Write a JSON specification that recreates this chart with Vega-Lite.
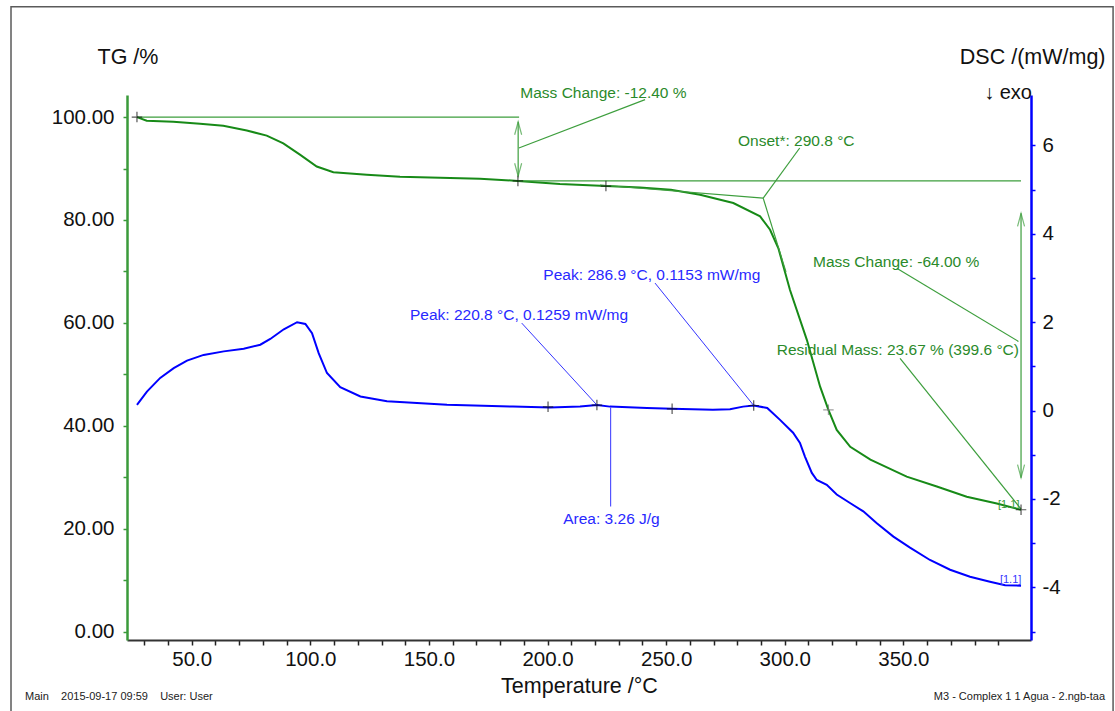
{
  "$schema": "https://vega.github.io/schema/vega-lite/v6.json",
  "width": 904,
  "height": 545,
  "autosize": {"type": "none"},
  "padding": {"left": 127, "top": 95, "right": 84, "bottom": 71},
  "background": "white",
  "config": {
    "view": {"stroke": null},
    "font": "Liberation Sans",
    "axis": {"grid": false, "labelOverlap": false, "labelBound": false, "labelFlush": false, "labelFontSize": 20.5, "labelColor": "#111", "titleFontWeight": "normal", "titleFontSize": 21.5, "titleColor": "#111", "tickWidth": 1.5, "ticks": true}
  },
  "datasets": {
    "tg": [
      {"T": 26.9, "V": 100.0}, {"T": 31.0, "V": 99.3}, {"T": 42.2, "V": 99.1}, {"T": 53.5, "V": 98.7},
      {"T": 63.3, "V": 98.3}, {"T": 73.2, "V": 97.4}, {"T": 81.6, "V": 96.4}, {"T": 88.6, "V": 94.9},
      {"T": 95.6, "V": 92.7}, {"T": 102.7, "V": 90.4}, {"T": 109.7, "V": 89.3}, {"T": 123.8, "V": 88.8},
      {"T": 137.8, "V": 88.4}, {"T": 154.7, "V": 88.2}, {"T": 171.5, "V": 88.0}, {"T": 187.5, "V": 87.6},
      {"T": 205.2, "V": 87.0}, {"T": 224.6, "V": 86.6}, {"T": 239.0, "V": 86.3}, {"T": 252.0, "V": 85.9},
      {"T": 264.3, "V": 84.9}, {"T": 278.3, "V": 83.3}, {"T": 289.6, "V": 80.7}, {"T": 293.8, "V": 78.1},
      {"T": 297.3, "V": 74.5}, {"T": 302.2, "V": 66.4}, {"T": 309.3, "V": 56.7}, {"T": 314.9, "V": 47.6},
      {"T": 318.4, "V": 43.1}, {"T": 321.9, "V": 39.2}, {"T": 327.6, "V": 35.9}, {"T": 336.1, "V": 33.4},
      {"T": 351.4, "V": 30.1}, {"T": 364.1, "V": 28.2}, {"T": 376.7, "V": 26.2}, {"T": 389.4, "V": 24.9},
      {"T": 399.6, "V": 23.67}
    ],
    "dsc": [
      {"T": 26.9, "V": 0.13}, {"T": 31.1, "V": 0.43}, {"T": 36.7, "V": 0.74}, {"T": 42.4, "V": 0.96},
      {"T": 48.0, "V": 1.13}, {"T": 55.0, "V": 1.26}, {"T": 63.5, "V": 1.34}, {"T": 71.9, "V": 1.40},
      {"T": 78.9, "V": 1.49}, {"T": 83.1, "V": 1.62}, {"T": 88.8, "V": 1.84}, {"T": 94.4, "V": 2.00},
      {"T": 97.9, "V": 1.96}, {"T": 100.7, "V": 1.75}, {"T": 103.5, "V": 1.30}, {"T": 107.0, "V": 0.85},
      {"T": 112.6, "V": 0.53}, {"T": 121.1, "V": 0.32}, {"T": 132.3, "V": 0.21}, {"T": 157.6, "V": 0.13},
      {"T": 185.4, "V": 0.09}, {"T": 201.0, "V": 0.07}, {"T": 213.7, "V": 0.09}, {"T": 220.8, "V": 0.126},
      {"T": 226.3, "V": 0.09}, {"T": 241.9, "V": 0.06}, {"T": 252.5, "V": 0.04}, {"T": 269.7, "V": 0.02},
      {"T": 276.9, "V": 0.03}, {"T": 282.4, "V": 0.09}, {"T": 286.9, "V": 0.115}, {"T": 292.6, "V": 0.06},
      {"T": 298.0, "V": -0.21}, {"T": 303.5, "V": -0.50}, {"T": 306.4, "V": -0.73}, {"T": 308.5, "V": -1.04},
      {"T": 311.4, "V": -1.41}, {"T": 313.5, "V": -1.57}, {"T": 317.7, "V": -1.68}, {"T": 321.9, "V": -1.90},
      {"T": 327.5, "V": -2.09}, {"T": 333.1, "V": -2.28}, {"T": 338.8, "V": -2.55}, {"T": 345.8, "V": -2.85},
      {"T": 352.8, "V": -3.10}, {"T": 361.2, "V": -3.38}, {"T": 369.7, "V": -3.60}, {"T": 378.1, "V": -3.76},
      {"T": 386.5, "V": -3.87}, {"T": 392.9, "V": -3.95}, {"T": 399.6, "V": -3.96}
    ],
    "gseg": [
      {"T": 26.9, "V": 100, "T2": 188, "V2": 100},
      {"T": 187.6, "V": 87.6, "T2": 399.6, "V2": 87.6},
      {"T": 187.6, "V": 99.1, "T2": 187.6, "V2": 88.5},
      {"T": 187.9, "V": 94.0, "T2": 241.1, "V2": 103.4},
      {"T": 222.1, "V": 86.8, "T2": 290.9, "V2": 84.25},
      {"T": 290.9, "V": 84.25, "T2": 300.5, "V2": 69.9},
      {"T": 290.9, "V": 84.25, "T2": 306.3, "V2": 94.0},
      {"T": 399.6, "V": 81.3, "T2": 399.6, "V2": 29.9},
      {"T": 398.5, "V": 56.4, "T2": 347.2, "V2": 70.6},
      {"T": 399.6, "V": 23.8, "T2": 348.6, "V2": 53.1}
    ],
    "garrow": [
      {"T": 187.6, "V": 99.1, "dir": "up"},
      {"T": 187.6, "V": 88.5, "dir": "down"},
      {"T": 399.6, "V": 81.3, "dir": "up"},
      {"T": 399.6, "V": 29.9, "dir": "down"}
    ],
    "gtext": [
      {"T": 188.5, "V": 104.7, "label": "Mass Change: -12.40 %"},
      {"T": 280.3, "V": 95.4, "label": "Onset*: 290.8 °C"},
      {"T": 311.9, "V": 71.9, "label": "Mass Change: -64.00 %"},
      {"T": 296.6, "V": 54.7, "label": "Residual Mass: 23.67 % (399.6 °C)"}
    ],
    "tgmark": [
      {"T": 26.9, "V": 100.0}, {"T": 187.5, "V": 87.6}, {"T": 224.6, "V": 86.6}, {"T": 399.6, "V": 23.67}
    ],
    "bseg": [
      {"T": 286.9, "V": 0.115, "T2": 245.3, "V2": 2.885},
      {"T": 220.8, "V": 0.126, "T2": 189.1, "V2": 1.98},
      {"T": 226.6, "V": 0.07, "T2": 226.6, "V2": -2.17}
    ],
    "btext": [
      {"T": 198.2, "V": 3.07, "label": "Peak: 286.9 °C, 0.1153 mW/mg"},
      {"T": 142.0, "V": 2.17, "label": "Peak: 220.8 °C, 0.1259 mW/mg"},
      {"T": 206.6, "V": -2.45, "label": "Area: 3.26 J/g"}
    ],
    "dscmark": [
      {"T": 200.2, "V": 0.086}, {"T": 220.8, "V": 0.126}, {"T": 252.5, "V": 0.04}, {"T": 286.9, "V": 0.115}
    ]
  },
  "encoding": {
    "x": {
      "field": "T", "type": "quantitative",
      "scale": {"domain": [22.7, 403.8], "nice": false, "zero": false},
      "axis": {
        "values": [30,40,50,60,70,80,90,100,110,120,130,140,150,160,170,180,190,200,210,220,230,240,250,260,270,280,290,300,310,320,330,340,350,360,370,380,390],
        "labelExpr": "datum.value % 50 === 0 ? format(datum.value, '.1f') : ''",
        "tickSize": 5,
        "tickColor": "#222", "domainColor": "#333", "domainWidth": 2,
        "labelPadding": 4, "labelOverlap": false,
        "title": "Temperature /°C",
        "titleX": 452, "titleY": 52, "titleBaseline": "alphabetic", "titleAlign": "center"
      }
    }
  },
  "layer": [
    {
      "encoding": {
        "y": {
          "field": "V", "type": "quantitative",
          "scale": {"domain": [-1.65, 104.3], "nice": false, "zero": false},
          "axis": {
            "orient": "left",
            "values": [0,10,20,30,40,50,60,70,80,90,100],
            "labelExpr": "datum.value % 20 === 0 ? format(datum.value, '.2f') : ''",
            "tickSize": 4,
            "tickColor": "#3a9a3a", "domainColor": "#3a9a3a", "domainWidth": 2.5,
            "labelPadding": 9, "labelOverlap": false,
            "title": "TG /%", "titleAngle": 0,
            "titleX": -30, "titleY": -31.7, "titleAlign": "left", "titleBaseline": "alphabetic"
          }
        }
      },
      "layer": [
        {
          "data": {"name": "tg"},
          "mark": {"type": "line", "color": "#178a17", "strokeWidth": 2},
          "encoding": {}
        },
        {
          "data": {"values": [{"T": -26.2, "V": 121.45, "T2": 438.4, "V2": -17.2}]},
          "mark": {"type": "rect", "fill": "transparent", "fillOpacity": 0, "stroke": "#5a5a5a", "strokeWidth": 1.5},
          "encoding": {"x2": {"field": "T2"}, "y2": {"field": "V2"}}
        },
        {
          "data": {"name": "gseg"},
          "mark": {"type": "rule", "color": "#3d9e3d", "strokeWidth": 1.2},
          "encoding": {"x2": {"field": "T2"}, "y2": {"field": "V2"}}
        },
        {
          "data": {"name": "garrow"},
          "mark": {"type": "point", "filled": false, "color": "#3d9e3d", "strokeWidth": 1.2, "size": 100},
          "encoding": {
            "shape": {"field": "dir", "type": "nominal", "scale": {"domain": ["up", "down"], "range": ["M-0.7,2.6L0,0L0.7,2.6", "M-0.7,-2.6L0,0L0.7,-2.6"]}, "legend": null}
          }
        },
        {
          "data": {"name": "gtext"},
          "mark": {"type": "text", "align": "left", "baseline": "middle", "fontSize": 15.5, "color": "#2a8a2a"},
          "encoding": {"text": {"field": "label"}}
        },
        {
          "data": {"values": [{"T": 389.9, "V": 24.6, "label": "[1.1]"}]},
          "mark": {"type": "text", "align": "left", "baseline": "middle", "fontSize": 11, "color": "#3a9a3a"},
          "encoding": {"text": {"field": "label"}}
        },
        {
          "data": {"name": "tgmark"},
          "mark": {"type": "point", "shape": "M-1,0L1,0M0,-1L0,1", "filled": false, "color": "#111", "strokeWidth": 1.2, "size": 110},
          "encoding": {}
        },
        {
          "data": {"values": [{"T": 318.4, "V": 43.1}]},
          "mark": {"type": "point", "shape": "M-1,0L1,0M0,-1L0,1", "filled": false, "color": "#777", "strokeWidth": 1.2, "size": 110},
          "encoding": {}
        },
        {
          "data": {"values": [
            {"T": -20.3, "V": -12.74, "label": "Main\u00a0\u00a0\u00a0\u00a02015-09-17 09:59\u00a0\u00a0\u00a0\u00a0User: User"}
          ]},
          "mark": {"type": "text", "align": "left", "baseline": "middle", "fontSize": 11, "color": "#222"},
          "encoding": {"text": {"field": "label"}}
        },
        {
          "data": {"values": [
            {"T": 435.0, "V": -12.74, "label": "M3 - Complex 1 1 Agua - 2.ngb-taa"}
          ]},
          "mark": {"type": "text", "align": "right", "baseline": "middle", "fontSize": 11, "color": "#222"},
          "encoding": {"text": {"field": "label"}}
        }
      ]
    },
    {
      "encoding": {
        "y": {
          "field": "V", "type": "quantitative",
          "scale": {"domain": [-5.19, 7.14], "nice": false, "zero": false},
          "axis": {
            "orient": "right",
            "values": [-5,-4,-3,-2,-1,0,1,2,3,4,5,6],
            "labelExpr": "datum.value % 2 === 0 ? '' + datum.value : ''",
            "tickSize": 4,
            "tickColor": "#0000ff", "domainColor": "#0000ff", "domainWidth": 2.5,
            "labelPadding": 7, "labelOverlap": false,
            "title": "DSC /(mW/mg)", "titleAngle": 0,
            "titleX": 74, "titleY": -31.7, "titleAlign": "right", "titleBaseline": "alphabetic"
          }
        }
      },
      "layer": [
        {
          "data": {"name": "dsc"},
          "mark": {"type": "line", "color": "#0000ff", "strokeWidth": 2},
          "encoding": {}
        },
        {
          "data": {"name": "bseg"},
          "mark": {"type": "rule", "color": "#3535ff", "strokeWidth": 1},
          "encoding": {"x2": {"field": "T2"}, "y2": {"field": "V2"}}
        },
        {
          "data": {"name": "btext"},
          "mark": {"type": "text", "align": "left", "baseline": "middle", "fontSize": 15.5, "color": "#2828ff"},
          "encoding": {"text": {"field": "label"}}
        },
        {
          "data": {"values": [{"T": 390.7, "V": -3.83, "label": "[1.1]"}]},
          "mark": {"type": "text", "align": "left", "baseline": "middle", "fontSize": 11, "color": "#3535ff"},
          "encoding": {"text": {"field": "label"}}
        },
        {
          "data": {"values": [{"T": 404.2, "V": 7.05, "label": "↓ exo"}]},
          "mark": {"type": "text", "align": "right", "baseline": "alphabetic", "fontSize": 20, "color": "#111"},
          "encoding": {"text": {"field": "label"}}
        },
        {
          "data": {"name": "dscmark"},
          "mark": {"type": "point", "shape": "M-1,0L1,0M0,-1L0,1", "filled": false, "color": "#111", "strokeWidth": 1.2, "size": 110},
          "encoding": {}
        }
      ]
    }
  ],
  "resolve": {"scale": {"y": "independent"}}
}
